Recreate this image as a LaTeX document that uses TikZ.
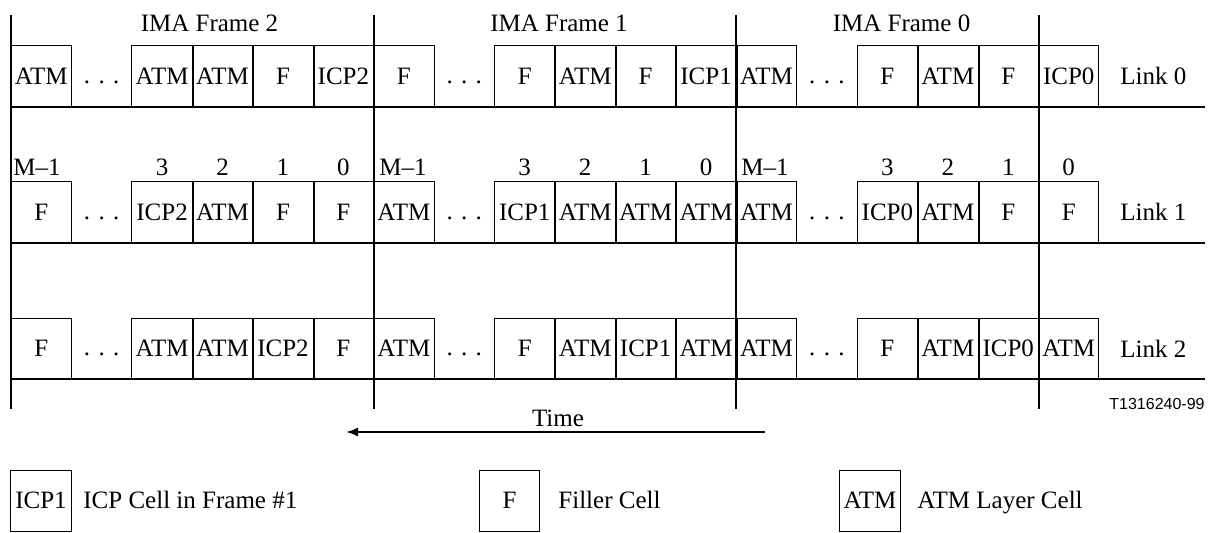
\documentclass[tikz,border=0pt]{standalone}
\usepackage{fontspec}
\setmainfont{Liberation Serif}
\newfontfamily\sansf{Liberation Sans}
\usetikzlibrary{arrows.meta}
\newcommand\cellrow[3]{%
  \foreach \lab [count=\i from 0] in {#3}{%
    \pgfmathtruncatemacro\isdot{(\i==1)||(\i==7)||(\i==13)}%
    \ifnum\isdot=1
      \node[dotsnode] (#1c\i) at ({41.22+60.44*\i},{#2+7}) {. . .};
    \else
      \node[cell] (#1c\i) at ({41.22+60.44*\i},#2) {\lab};
    \fi
  }
  \foreach \i in {2,3,4,5,8,9,10,11,14,15,16}
    \draw[sep] (#1c\i.north east) -- (#1c\i.south east);
}
\begin{document}
\begin{tikzpicture}[x=0.5pt,y=-0.5pt,
  txt/.style={inner sep=0pt,font=\fontsize{12.5}{15}\selectfont},
  cell/.style={txt,draw,line width=0.5pt,minimum width=30.22pt,minimum height=30.5pt},
  dotsnode/.style={txt,anchor=base},
  sep/.style={line width=1pt},
  frameline/.style={line width=1pt},
  rowline/.style={line width=1pt},
  idx/.style={txt,anchor=base},
  linklab/.style={txt,anchor=west},
  legtext/.style={txt,anchor=base west}]
\useasboundingbox (0,0) rectangle (1209,532);

% frame labels
\node[txt,anchor=base] (f2) at (209.5,31.5) {IMA Frame 2};
\node[txt,anchor=base] (f1) at (559,31.5) {IMA Frame 1};
\node[txt,anchor=base] (f0) at (901.5,31.5) {IMA Frame 0};

% rows of cells
\cellrow{a}{76}{ATM,D,ATM,ATM,F,ICP2,F,D,F,ATM,F,ICP1,ATM,D,F,ATM,F,ICP0}
\cellrow{b}{212}{F,D,ICP2,ATM,F,F,ATM,D,ICP1,ATM,ATM,ATM,ATM,D,ICP0,ATM,F,F}
\cellrow{c}{348.5}{F,D,ATM,ATM,ICP2,F,ATM,D,F,ATM,ICP1,ATM,ATM,D,F,ATM,ICP0,ATM}

% horizontal lines
\foreach \yy in {107,242.5,379}
  \draw[rowline] (11,\yy) -- (1205,\yy);

% frame boundary lines
\foreach \xx in {11,373.6,736.3,1038.5}
  \draw[frameline] (\xx,15) -- (\xx,409);

% link labels
\node[linklab] (l0) at (1120,76) {Link 0};
\node[linklab] (l1) at (1120,212) {Link 1};
\node[linklab] (l2) at (1120,348.5) {Link 2};

% cell indices
\node[idx] (m2) at (37,175) {M\textendash 1};
\node[idx] (m1) at (403,175) {M\textendash 1};
\node[idx] (m0) at (765,175) {M\textendash 1};
\foreach \c/\n in {2/3,3/2,4/1,5/0,8/3,9/2,10/1,11/0,14/3,15/2,16/1,17/0}
  \node[idx] (n\c) at ({41.22+60.44*\c},175) {\n};

% figure id
\node[inner sep=0pt,anchor=base east,font=\sansf\fontsize{8}{9}\selectfont] (fid) at (1205,409) {T1316240-99};

% time arrow
\node[txt,anchor=base] (time) at (558,426) {Time};
\coordinate (ts) at (765,432);
\coordinate (te) at (346,432);
\draw[line width=1pt,-{Latex[length=6pt,width=4.5pt]}] (ts) -- (te);

% legend
\node[cell] (k1) at (41,500.5) {ICP1};
\node[legtext] (k1t) at (83,508.5) {ICP Cell in Frame \#1};
\node[cell] (k2) at (509.5,500.5) {F};
\node[legtext] (k2t) at (558,508.5) {Filler Cell};
\node[cell] (k3) at (870,500.5) {ATM};
\node[legtext] (k3t) at (917,508.5) {ATM Layer Cell};
\end{tikzpicture}
\end{document}
